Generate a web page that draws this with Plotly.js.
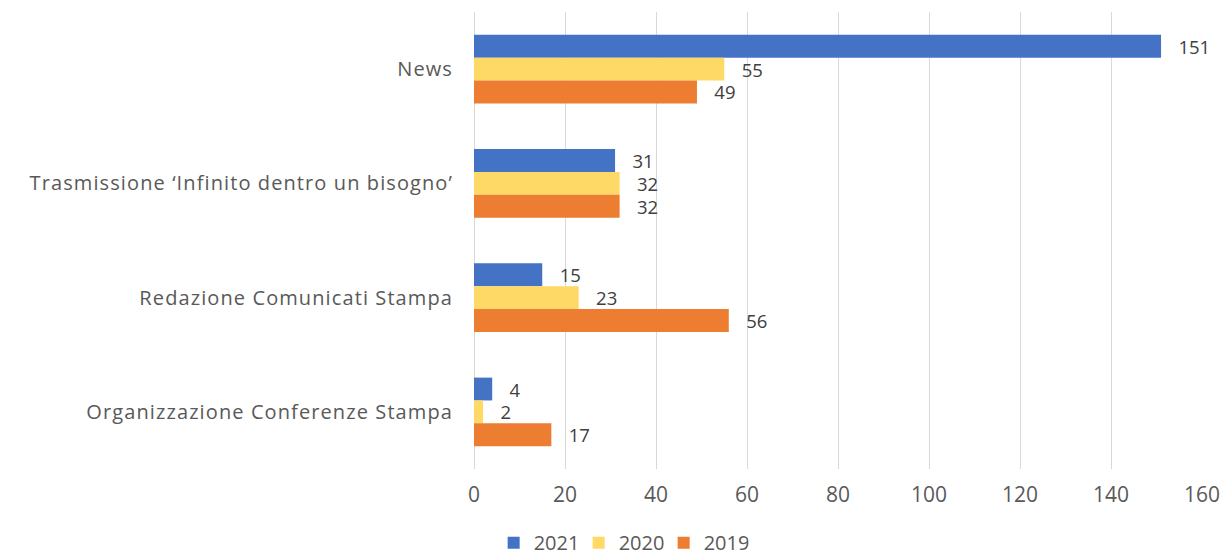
<!DOCTYPE html>
<html>
<head>
<meta charset="utf-8">
<script src="https://cdn.plot.ly/plotly-3.0.1.min.js"></script>
<style>
html,body{margin:0;padding:0;background:#fff;}
#chart{width:1227px;height:556px;}
#chart .ytick text{letter-spacing:1.1px;}
</style>
</head>
<body>
<div id="chart"></div>
<script>
const categories = ["News", "Trasmissione ‘Infinito dentro un bisogno’", "Redazione Comunicati Stampa", "Organizzazione Conferenze Stampa"];
const values2021 = [151, 31, 15, 4];
const values2020 = [55, 32, 23, 2];
const values2019 = [49, 32, 56, 17];
const seriesNames = ["2021", "2020", "2019"];
const colors = ["#4472C4", "#FFD966", "#ED7D31"];
const xTicks = [0, 20, 40, 60, 80, 100, 120, 140, 160];

const font = "Open Sans, Noto Sans, sans-serif";
function mk(vals, i) {
  return {
    type: "bar", orientation: "h", name: seriesNames[i],
    x: vals, y: categories,
    marker: {color: colors[i]},
    text: vals.map(v => "\u00a0\u00a0\u00a0" + v), textposition: "outside",
    constraintext: "none",
    textfont: {family: font, size: 18.5, color: "#404040"},
    cliponaxis: false, hoverinfo: "x"
  };
}
const data = [mk(values2021, 0), mk(values2020, 1), mk(values2019, 2)];
const layout = {
  width: 1227, height: 556,
  margin: {l: 474, r: 25, t: 12, b: 87, autoexpand: false},
  barmode: "group", bargap: 0.4, bargroupgap: 0,
  paper_bgcolor: "#fff", plot_bgcolor: "#fff",
  font: {family: font, size: 20, color: "#595959"},
  xaxis: {range: [0, 160], tickvals: xTicks, ticktext: xTicks.map(String),
    showgrid: true, gridcolor: "#D9D9D9", gridwidth: 1, zeroline: true, zerolinecolor: "#D9D9D9",
    showline: false, ticks: "", ticklabelstandoff: 11,
    tickfont: {size: 21, color: "#595959"}},
  yaxis: {autorange: "reversed", showgrid: false, zeroline: false, ticks: "",
    ticklabelstandoff: 20, tickfont: {size: 20, color: "#595959"}},
  showlegend: true,
  legend: {orientation: "h", x: 0.027, xanchor: "left", xref: "paper",
    y: 0.024, yanchor: "middle", yref: "container",
    font: {size: 20, color: "#595959"}, itemwidth: 30, entrywidth: 40, traceorder: "normal"}
};
Plotly.newPlot("chart", data, layout, {displayModeBar: false, staticPlot: true});
</script>
</body>
</html>
